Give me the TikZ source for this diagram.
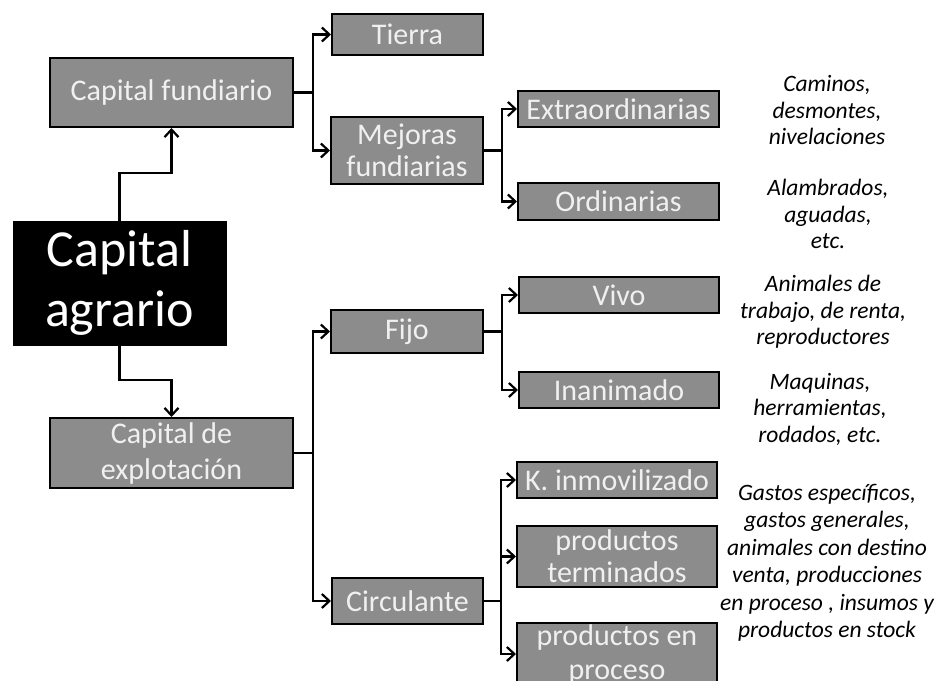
\documentclass[tikz,border=0pt]{standalone}
\usepackage{fontspec}
\setmainfont{Carlito}
\usetikzlibrary{arrows.meta}
\definecolor{boxgray}{HTML}{8C8C8C}
\definecolor{boxtext}{HTML}{F0F0F0}
\begin{document}
\begin{tikzpicture}[x=1pt,y=-1pt,
  box/.style={draw=black, line width=2pt, fill=boxgray, text=boxtext, inner sep=0pt,
    align=center, font=\fontsize{30}{32}\selectfont},
  rootbox/.style={draw=black, fill=black, text=white, inner sep=0pt, align=center,
    font=\fontsize{52}{60}\selectfont},
  note/.style={align=center, inner sep=0pt, font=\fontsize{23.5}{26.5}\selectfont\itshape},
  link/.style={line width=2.2pt},
  arr/.style={link, -{Straight Barb[length=7.5pt,width=14pt,line width=2.2pt]}}]
\useasboundingbox (0,0) rectangle (939,680);

% root
\node[rootbox, minimum width=213pt, minimum height=124pt] (agr) at (119.5,283) {Capital\\agrario};

% first level
\node[box, minimum width=243pt, minimum height=69pt] (fund) at (171.5,92.5) {Capital fundiario};
\node[box, minimum width=243pt, minimum height=70pt, font=\fontsize{30}{36}\selectfont] (expl) at (171.5,453) {Capital de\\explotación};

% second level
\node[box, minimum width=151pt, minimum height=41pt] (tierra) at (407.5,34.5) {Tierra};
\node[box, minimum width=152pt, minimum height=67pt] (mej) at (407,150.5) {Mejoras\\fundiarias};
\node[box, minimum width=152pt, minimum height=43pt] (fijo) at (407,331.5) {Fijo};
\node[box, minimum width=151pt, minimum height=46pt] (circ) at (407.5,601) {Circulante};

% third level
\node[box, minimum width=201pt, minimum height=36pt] (extra) at (618.5,109) {Extraordinarias};
\node[box, minimum width=201pt, minimum height=37pt] (ordin) at (618.5,201.5) {Ordinarias};
\node[box, minimum width=200pt, minimum height=36pt] (vivo) at (619,295) {Vivo};
\node[box, minimum width=200pt, minimum height=36pt] (inan) at (619,390) {Inanimado};
\node[box, minimum width=200pt, minimum height=36pt] (kinm) at (617,480) {K. inmovilizado};
\node[box, minimum width=200pt, minimum height=61pt] (pterm) at (617,556.5) {productos\\terminados};
\node[box, minimum width=200pt, minimum height=62pt, font=\fontsize{30}{34}\selectfont] (pproc) at (617,654) {productos en\\proceso};

% notes
\node[note] (n1) at (827,110) {Caminos,\\desmontes,\\nivelaciones};
\node[note] (n2) at (828,214) {Alambrados,\\aguadas,\\etc.};
\node[note] (n3) at (823,312) {Animales de\\trabajo, de renta,\\reproductores};
\node[note] (n4) at (820,409) {Maquinas,\\herramientas,\\rodados, etc.};
\node[note, font=\fontsize{23.5}{27.5}\selectfont\itshape] (n5) at (827,563) {Gastos específicos,\\gastos generales,\\animales con destino\\venta, producciones\\en proceso , insumos y\\productos en stock};

% root connectors
\draw[arr] (agr.north) -- ++(0,-48) -| (fund.south);
\draw[arr] (agr.south) -- ++(0,35) -| (expl.north);

% brackets
\draw[link] (fund.east) -- ++(19,0) coordinate (fj);
\draw[arr] (fj) |- (tierra.west);
\draw[arr] (fj) |- (mej.west);

\draw[link] (mej.east) -- ++(18,0) coordinate (mj);
\draw[arr] (mj) |- (extra.west);
\draw[arr] (mj) |- (ordin.west);

\draw[link] (expl.east) -- ++(19,0) coordinate (ej);
\draw[arr] (ej) |- (fijo.west);
\draw[arr] (ej) |- (circ.west);

\draw[link] (fijo.east) -- ++(18,0) coordinate (xj);
\draw[arr] (xj) |- (vivo.west);
\draw[arr] (xj) |- (inan.west);

\draw[link] (circ.east) -- ++(17,0) coordinate (cj);
\draw[arr] (cj) |- (kinm.west);
\draw[arr] (cj) |- (pterm.west);
\draw[arr] (cj) |- (pproc.west);
\end{tikzpicture}
\end{document}
